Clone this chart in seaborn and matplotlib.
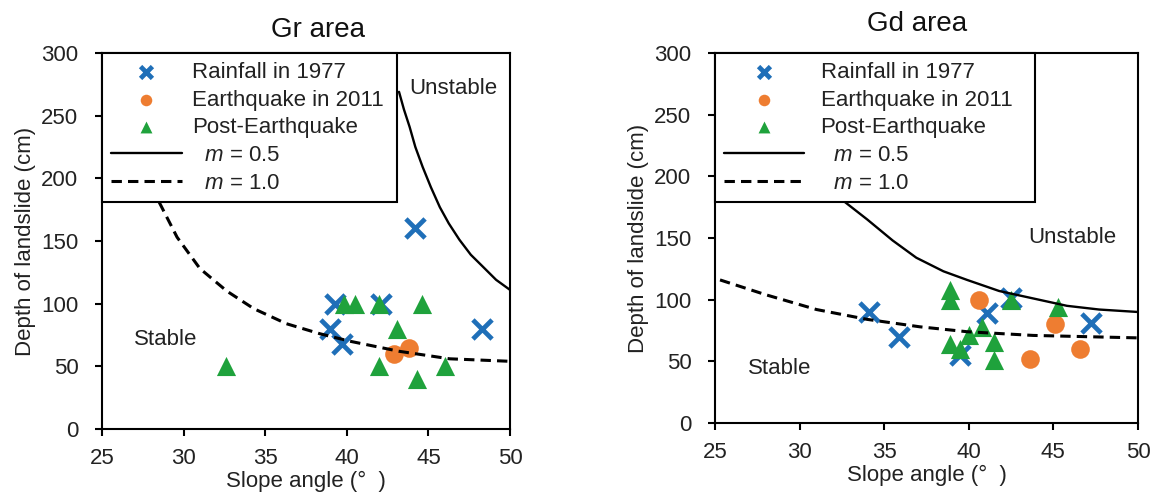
import matplotlib
matplotlib.use("Agg")
import matplotlib.pyplot as plt
import seaborn as sns

# Gr area
gr_rain_x = [44.2, 39.3, 42.1, 39.0, 39.7, 48.3]
gr_rain_y = [160, 100, 100, 80, 68, 80]
gr_eq_x = [42.9, 43.8]
gr_eq_y = [60, 65]
gr_post_x = [32.6, 39.8, 40.5, 42.0, 44.6, 43.1, 42.0, 44.3, 46.0]
gr_post_y = [50, 100, 100, 100, 100, 80, 50, 40, 50]
gr_m05_x = [43.2, 43.5, 43.85, 44.2, 44.65, 45.15, 45.7, 46.25, 46.9, 47.6, 48.3, 49.15, 50.0]
gr_m05_y = [269, 255, 241, 225, 209, 193, 177, 164, 151, 139, 130, 119, 111]
gr_m10_x = [28.5, 29.6, 31.0, 32.65, 34.3, 36.3, 38.35, 40.2, 43.2, 46.3, 50.0]
gr_m10_y = [181, 153, 128, 110, 96, 84, 76, 70, 62, 56, 54]

# Gd area
gd_rain_x = [34.1, 35.9, 39.5, 41.1, 42.5, 47.2]
gd_rain_y = [90, 70, 55, 89, 101, 81]
gd_eq_x = [40.6, 45.1, 43.6, 46.6]
gd_eq_y = [100, 80, 52, 60]
gd_post_x = [38.9, 38.9, 38.9, 39.5, 40.0, 40.8, 41.5, 41.5, 42.5, 45.3]
gd_post_y = [108, 100, 64, 60, 71, 78, 66, 51, 100, 94]
gd_m05_x = [32.6, 34.0, 35.5, 36.9, 38.5, 39.9, 41.8, 43.8, 45.8, 47.7, 50.0]
gd_m05_y = [180, 165, 148, 134, 123, 116, 107, 101, 95, 92, 90]
gd_m10_x = [25.3, 28.0, 31.0, 34.0, 37.1, 39.9, 43.8, 50.0]
gd_m10_y = [116, 104, 92, 84, 78, 74, 71, 69]

x_ticks = [25, 30, 35, 40, 45, 50]
y_ticks = [0, 50, 100, 150, 200, 250, 300]

BLUE = "#1f6fb8"
ORANGE = "#ee7d31"
GREEN = "#1fa23c"

sns.set_theme(style="ticks")
plt.rcParams["font.family"] = ["Liberation Sans", "DejaVu Sans"]
plt.rcParams["mathtext.fontset"] = "custom"
plt.rcParams["mathtext.it"] = "Liberation Sans:italic"
plt.rcParams["mathtext.rm"] = "Liberation Sans"

fig = plt.figure(figsize=(11.58, 4.96), dpi=100)
ax1 = fig.add_axes([0.0881, 0.1351, 0.3523, 0.7581])
ax2 = fig.add_axes([0.6174, 0.1472, 0.3653, 0.7460])


def draw_panel(ax, rain, eq, post, m05, m10, leg_w, hlen, hpad):
    sns.scatterplot(x=rain[0], y=rain[1], marker="x", s=190, color=BLUE,
                    linewidth=3.4, ax=ax, label="Rainfall in 1977", zorder=3)
    sns.scatterplot(x=eq[0], y=eq[1], marker="o", s=180, color=ORANGE,
                    linewidth=0, ax=ax, label="Earthquake in 2011", zorder=3)
    sns.scatterplot(x=post[0], y=post[1], marker="^", s=190, color=GREEN,
                    linewidth=0, ax=ax, label="Post-Earthquake", zorder=3)
    sns.lineplot(x=m05[0], y=m05[1], color="black", linewidth=1.7,
                 ax=ax, label="  $m$ = 0.5", zorder=4)
    sns.lineplot(x=m10[0], y=m10[1], color="black", linewidth=2.2,
                 linestyle=(0, (3.4, 2.0)), ax=ax, label="  $m$ = 1.0", zorder=4)

    ax.set_xlim(25, 50)
    ax.set_ylim(0, 300)
    ax.set_xticks(x_ticks)
    ax.set_yticks(y_ticks)
    for sp in ax.spines.values():
        sp.set_linewidth(1.5)
        sp.set_color("black")
    ax.tick_params(direction="out", length=5, width=1.5, labelsize=16,
                   colors="black", labelcolor="#222222")
    ax.tick_params(axis="x", pad=9)
    ax.tick_params(axis="y", pad=12)
    ax.set_xlabel("Slope angle (°  )", fontsize=16, labelpad=1, color="#222222")
    ax.set_ylabel("Depth of landslide (cm)", fontsize=16, labelpad=4, color="#222222")

    handles, labels = ax.get_legend_handles_labels()
    leg = ax.legend(handles, labels, loc="upper left", bbox_to_anchor=(0, 0, leg_w, 1),
                    mode="expand", borderaxespad=0, frameon=True, fancybox=False,
                    edgecolor="black", framealpha=1, fontsize=16, markerscale=0.62,
                    handlelength=hlen, handletextpad=hpad, borderpad=0.4,
                    labelspacing=0.3)
    leg.get_frame().set_linewidth(1.5)
    for t in leg.get_texts():
        t.set_color("#222222")


draw_panel(ax1, (gr_rain_x, gr_rain_y), (gr_eq_x, gr_eq_y), (gr_post_x, gr_post_y),
           (gr_m05_x, gr_m05_y), (gr_m10_x, gr_m10_y), 0.723, 3.2, 0.45)
draw_panel(ax2, (gd_rain_x, gd_rain_y), (gd_eq_x, gd_eq_y), (gd_post_x, gd_post_y),
           (gd_m05_x, gd_m05_y), (gd_m10_x, gd_m10_y), 0.757, 3.6, 0.75)

ax1.text(0.53, 1.043, "Gr area", transform=ax1.transAxes, ha="center",
         va="baseline", fontsize=20, color="#111111")
ax2.text(0.478, 1.06, "Gd area", transform=ax2.transAxes, ha="center",
         va="baseline", fontsize=20, color="#111111")

ax1.text(46.5, 272, "Unstable", ha="center", va="center", fontsize=16, color="#222222")
ax1.text(28.9, 71.5, "Stable", ha="center", va="center", fontsize=16, color="#222222")
ax2.text(46.1, 150, "Unstable", ha="center", va="center", fontsize=16, color="#222222")
ax2.text(28.85, 44.5, "Stable", ha="center", va="center", fontsize=16, color="#222222")

fig.savefig("out.png", dpi=100)
